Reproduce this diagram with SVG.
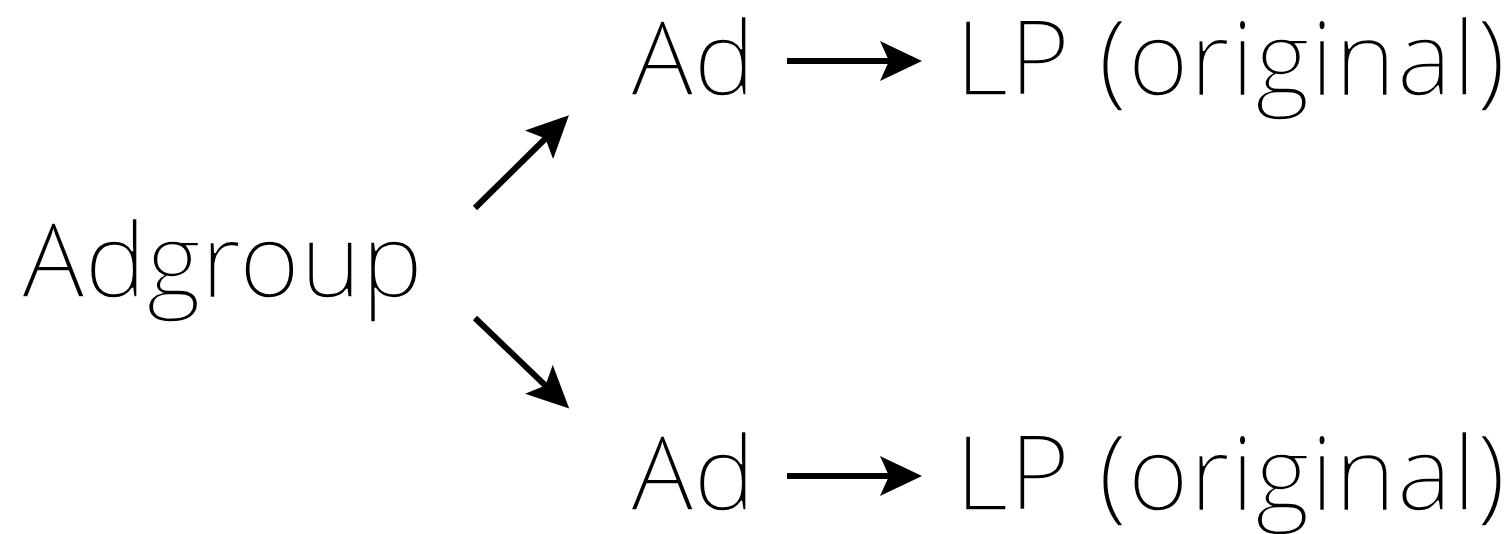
<svg xmlns="http://www.w3.org/2000/svg" width="1508" height="534" viewBox="0 0 1508 534">
<style>
text{font-family:"Open Sans Light","Open Sans","Noto Sans","Liberation Sans",sans-serif;font-weight:300;font-size:104px;fill:#000;stroke:#fff;stroke-width:1.5}
.lp{letter-spacing:0.8px}
.c{stroke:#000;stroke-width:6;fill:none;marker-end:url(#ah)}
</style>
<defs>
<marker id="ah" markerUnits="userSpaceOnUse" markerWidth="42" markerHeight="40" viewBox="0 0 42 40" refX="14" refY="20" orient="auto">
<path d="M0,0 L42,20 L0,40 L9,20 z" fill="#000"/>
</marker>
</defs>
<rect width="1508" height="534" fill="#fff"/>
<g id="adgroup"><text x="22" y="297">Adgroup</text></g>
<g id="ad1"><text x="631" y="95">Ad</text></g>
<g id="lp1"><text class="lp" x="955" y="95">LP (original)</text></g>
<g id="ad2"><text x="631" y="510">Ad</text></g>
<g id="lp2"><text class="lp" x="955" y="510">LP (original)</text></g>
<g id="connectors">
<line class="c" x1="475" y1="208" x2="549" y2="135"/>
<line class="c" x1="475" y1="318" x2="549" y2="389"/>
<line class="c" x1="787" y1="61" x2="894" y2="61"/>
<line class="c" x1="787" y1="476" x2="894" y2="476"/>
</g>
</svg>
